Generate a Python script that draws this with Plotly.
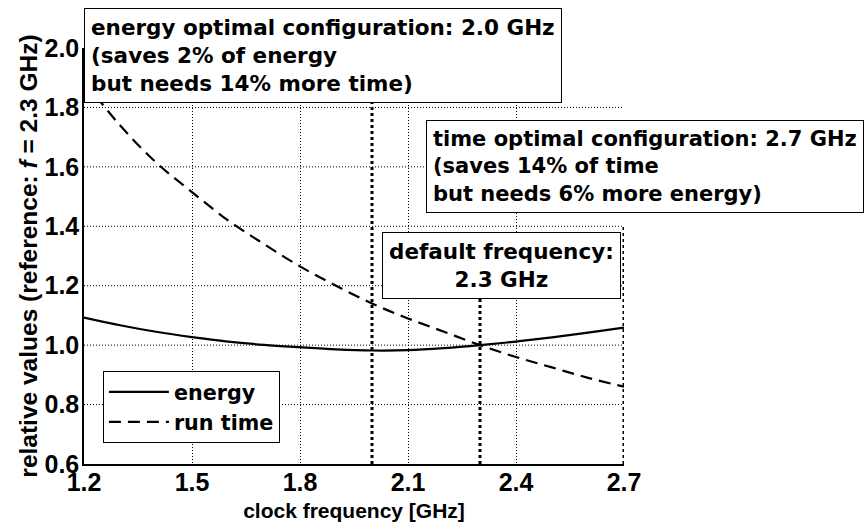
import plotly.graph_objects as go

# ---- data ----
freq_ghz = [1.2, 1.3, 1.4, 1.5, 1.6, 1.7, 1.8, 1.9, 2.0, 2.1, 2.2, 2.3, 2.4, 2.5, 2.6, 2.7]
energy = [1.093, 1.067, 1.045, 1.027, 1.012, 1.001, 0.993, 0.986, 0.982, 0.983, 0.990, 1.000, 1.012, 1.026, 1.042, 1.059]
run_time = [1.89, 1.74, 1.615, 1.515, 1.42, 1.34, 1.265, 1.20, 1.14, 1.09, 1.045, 1.00, 0.96, 0.925, 0.89, 0.86]

marker_freqs = [2.0, 2.3, 2.7]      # energy optimal, default, time optimal
marker_tops = [2.0, 1.37, 1.4]

x_ticks = [1.2, 1.5, 1.8, 2.1, 2.4, 2.7]
y_ticks = [0.6, 0.8, 1.0, 1.2, 1.4, 1.6, 1.8, 2.0]
y_min, y_max = 0.6, 2.0
x_min, x_max = 1.2, 2.7

FONT = "Liberation Sans"
BOX_FONT = "DejaVu Sans"
FS_LEG = 20.7
FS_TICK = 25
FS_YT = 24.5
FS_XT = 21

fig = go.Figure()

# horizontal grid lines (inside the range only)
for v in y_ticks:
    if y_min < v < y_max:
        fig.add_shape(type="line", xref="paper", yref="y", x0=0, x1=1, y0=v, y1=v,
                      line=dict(color="black", width=1, dash="1px,2px"), layer="below")

# markers for special frequencies (thick dotted verticals)
for fx, top in zip(marker_freqs, marker_tops):
    fig.add_trace(go.Scatter(x=[fx, fx], y=[y_min, top], mode="lines",
                             line=dict(color="black", width=3, dash="3px,3px"),
                             showlegend=False, hoverinfo="skip"))

fig.add_trace(go.Scatter(x=freq_ghz, y=energy, mode="lines", name="energy",
                         line=dict(color="black", width=2.2, shape="spline")))
fig.add_trace(go.Scatter(x=freq_ghz, y=run_time, mode="lines", name="run time",
                         line=dict(color="black", width=2.2, dash="12px,7px", shape="spline")))

def box(text, x, y, size, pad, align="left"):
    fig.add_annotation(text=text, xref="paper", yref="paper", x=x, y=y,
                       xanchor="left", yanchor="top", showarrow=False, align=align,
                       font=dict(family=BOX_FONT, size=size, color="black", weight="bold"),
                       bgcolor="white", bordercolor="black", borderwidth=1, borderpad=pad)

box("energy optimal configuration: 2.0 GHz<br>(saves 2% of energy<br>but needs 14% more time)",
    0.0, 1.097, 21.5, 6)
box("time optimal configuration: 2.7 GHz<br>(saves 14% of time<br>but needs 6% more energy)",
    0.633, 0.827, 21, 6)
box("default frequency:<br>2.3 GHz", 0.551, 0.558, 21.5, 6, align="center")

fig.update_layout(
    width=865, height=529,
    margin=dict(l=84, r=241, t=48, b=65),
    paper_bgcolor="white", plot_bgcolor="white",
    font=dict(family=FONT, size=FS_TICK, color="black", weight="bold"),
    showlegend=True,
    legend=dict(x=0.035, y=0.2236, xanchor="left", yanchor="top",
                bgcolor="white", bordercolor="black", borderwidth=1,
                font=dict(family=BOX_FONT, size=FS_LEG, color="black", weight="bold"),
                tracegroupgap=0, itemwidth=60),
)

fig.update_xaxes(range=[x_min, x_max], tickvals=x_ticks, ticktext=[f"{v:.1f}" for v in x_ticks],
                 automargin=False,
                 showline=True, linecolor="black", linewidth=1.5, mirror=False,
                 showgrid=True, gridcolor="black", gridwidth=1, griddash="1px,2px",
                 zeroline=False, ticks="", ticklabelstandoff=-5,
                 tickfont=dict(family=FONT, size=FS_TICK, weight="bold"),
                 title=dict(text="clock frequency [GHz]", standoff=9,
                            font=dict(family=FONT, size=FS_XT, weight="bold")))
fig.update_yaxes(range=[y_min, y_max], tickvals=y_ticks, ticktext=[f"{v:.1f}" for v in y_ticks],
                 automargin=False,
                 showline=True, linecolor="black", linewidth=1.5, mirror=False,
                 showgrid=False, ticklabelstandoff=-2,
                 zeroline=False, ticks="", tickfont=dict(family=FONT, size=FS_TICK, weight="bold"),
                 title=dict(text="relative values (reference: <i>f</i> = 2.3 GHz)", standoff=0,
                            font=dict(family=FONT, size=FS_YT, weight="bold")))

fig.write_html("out.html", config={"displayModeBar": False},
               post_script="document.body.style.margin='0px';")
